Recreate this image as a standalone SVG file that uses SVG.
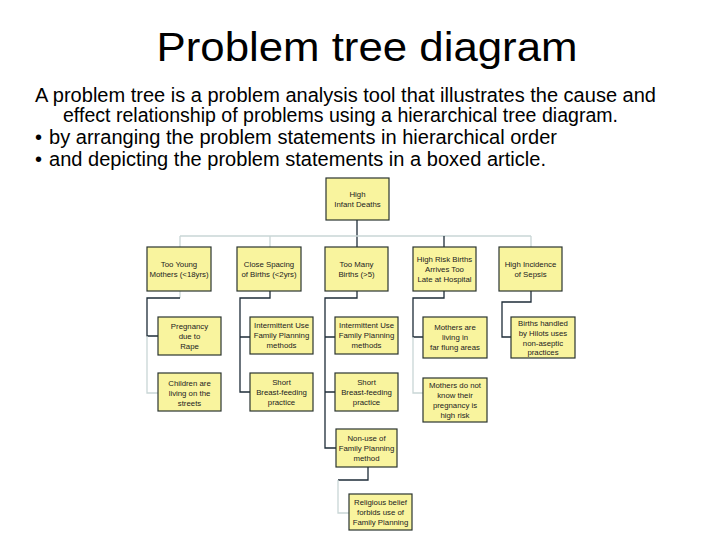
<svg xmlns="http://www.w3.org/2000/svg" width="720" height="540" viewBox="0 0 720 540">
<style>
.bx{fill:#f9f49e;stroke:#2a3430;stroke-width:1.2}
.t{font-family:"Liberation Sans",Arial,sans-serif;font-size:7.8px;fill:#222;text-anchor:middle}
.c{fill:none;stroke:#1e2c38;stroke-width:1.3}
.f{fill:none;stroke:#c9d6d6;stroke-width:1.3}
.p{font-family:"Liberation Sans",Arial,sans-serif;font-size:20px;fill:#000}
</style>
<rect width="720" height="540" fill="#fff"/>
<text x="367" y="61" font-family="Liberation Sans,Arial,sans-serif" font-size="41" text-anchor="middle" textLength="421" lengthAdjust="spacingAndGlyphs">Problem tree diagram</text>
<text class="p" x="35" y="102" textLength="621" lengthAdjust="spacingAndGlyphs">A problem tree is a problem analysis tool that illustrates the cause and</text>
<text class="p" x="63" y="122" textLength="555" lengthAdjust="spacingAndGlyphs">effect relationship of problems using a hierarchical tree diagram.</text>
<text class="p" x="35" y="144" font-size="16">•</text>
<text class="p" x="49" y="144" textLength="508" lengthAdjust="spacingAndGlyphs">by arranging the problem statements in hierarchical order</text>
<text class="p" x="35" y="166" font-size="16">•</text>
<text class="p" x="49" y="166" textLength="497" lengthAdjust="spacingAndGlyphs">and depicting the problem statements in a boxed article.</text>

<g id="connectors">
<path class="c" d="M357 220V247"/>
<path class="f" d="M180 236H531M180 236V247M270 236V247M531 236V247"/>
<path class="c" d="M444 236V247"/>
<path class="f" d="M180 291V298"/>
<path class="c" d="M180 298H147V336H158"/>
<path class="f" d="M147 336V393H158"/>
<path class="c" d="M270 291V298H240V392H250M240 337H250"/>
<path class="c" d="M357 291V298H325V448H336M325 337H335M325 392H335"/>
<path class="c" d="M368 467V480H338"/>
<path class="f" d="M338 480V513H349"/>
<path class="c" d="M444 291V298H413V337H423"/>
<path class="f" d="M413 337V393H423"/>
<path class="c" d="M531 291V302H502V337H511"/>
</g>

<g id="n0"><rect class="bx" x="326" y="178" width="63" height="42"/><text class="t" x="357.5" y="197">High</text><text class="t" x="357.5" y="207">Infant Deaths</text></g>

<g id="n1"><rect class="bx" x="147" y="247" width="64" height="44"/><text class="t" x="179" y="267">Too Young</text><text class="t" x="179" y="277">Mothers (&lt;18yrs)</text></g>
<g id="n2"><rect class="bx" x="237" y="247" width="64" height="44"/><text class="t" x="269" y="267">Close Spacing</text><text class="t" x="269" y="277">of Births (&lt;2yrs)</text></g>
<g id="n3"><rect class="bx" x="325" y="247" width="63" height="44"/><text class="t" x="356.5" y="267">Too Many</text><text class="t" x="356.5" y="277">Births (&gt;5)</text></g>
<g id="n4"><rect class="bx" x="413" y="247" width="63" height="44"/><text class="t" x="444.5" y="262">High  Risk Births</text><text class="t" x="444.5" y="272">Arrives Too</text><text class="t" x="444.5" y="282">Late at Hospital</text></g>
<g id="n5"><rect class="bx" x="499" y="247" width="63" height="44"/><text class="t" x="530.5" y="267">High Incidence</text><text class="t" x="530.5" y="277">of Sepsis</text></g>

<g id="n1a"><rect class="bx" x="158" y="317" width="63" height="38"/><text class="t" x="189.5" y="329">Pregnancy</text><text class="t" x="189.5" y="339">due to</text><text class="t" x="189.5" y="349">Rape</text></g>
<g id="n1b"><rect class="bx" x="158" y="373" width="63" height="38"/><text class="t" x="189.5" y="386">Children are</text><text class="t" x="189.5" y="396">living on the</text><text class="t" x="189.5" y="406">streets</text></g>
<g id="n2a"><rect class="bx" x="250" y="317" width="63" height="37"/><text class="t" x="281.5" y="328">Intermittent Use</text><text class="t" x="281.5" y="338">Family Planning</text><text class="t" x="281.5" y="348">methods</text></g>
<g id="n2b"><rect class="bx" x="250" y="373" width="63" height="38"/><text class="t" x="281.5" y="385">Short</text><text class="t" x="281.5" y="395">Breast-feeding</text><text class="t" x="281.5" y="405">practice</text></g>
<g id="n3a"><rect class="bx" x="335" y="317" width="63" height="37"/><text class="t" x="366.5" y="328">Intermittent Use</text><text class="t" x="366.5" y="338">Family Planning</text><text class="t" x="366.5" y="348">methods</text></g>
<g id="n3b"><rect class="bx" x="335" y="373" width="63" height="38"/><text class="t" x="366.5" y="385">Short</text><text class="t" x="366.5" y="395">Breast-feeding</text><text class="t" x="366.5" y="405">practice</text></g>
<g id="n3c"><rect class="bx" x="336" y="429" width="61" height="38"/><text class="t" x="366.5" y="441">Non-use of</text><text class="t" x="366.5" y="451">Family Planning</text><text class="t" x="366.5" y="461">method</text></g>
<g id="n3d"><rect class="bx" x="349" y="494" width="63" height="36"/><text class="t" x="380.5" y="505">Religious belief</text><text class="t" x="380.5" y="515">forbids use of</text><text class="t" x="380.5" y="525">Family Planning</text></g>
<g id="n4a"><rect class="bx" x="423" y="317" width="64" height="41"/><text class="t" x="455" y="330">Mothers are</text><text class="t" x="455" y="340">living in</text><text class="t" x="455" y="350">far flung areas</text></g>
<g id="n4b"><rect class="bx" x="423" y="378" width="64" height="44"/><text class="t" x="455" y="388">Mothers do not</text><text class="t" x="455" y="398">know their</text><text class="t" x="455" y="408">pregnancy is</text><text class="t" x="455" y="418">high risk</text></g>
<g id="n5a"><rect class="bx" x="511" y="317" width="64" height="41"/><text class="t" x="543" y="326">Births handled</text><text class="t" x="543" y="336">by Hilots uses</text><text class="t" x="543" y="346">non-aseptic</text><text class="t" x="543" y="355">practices</text></g>
</svg>
